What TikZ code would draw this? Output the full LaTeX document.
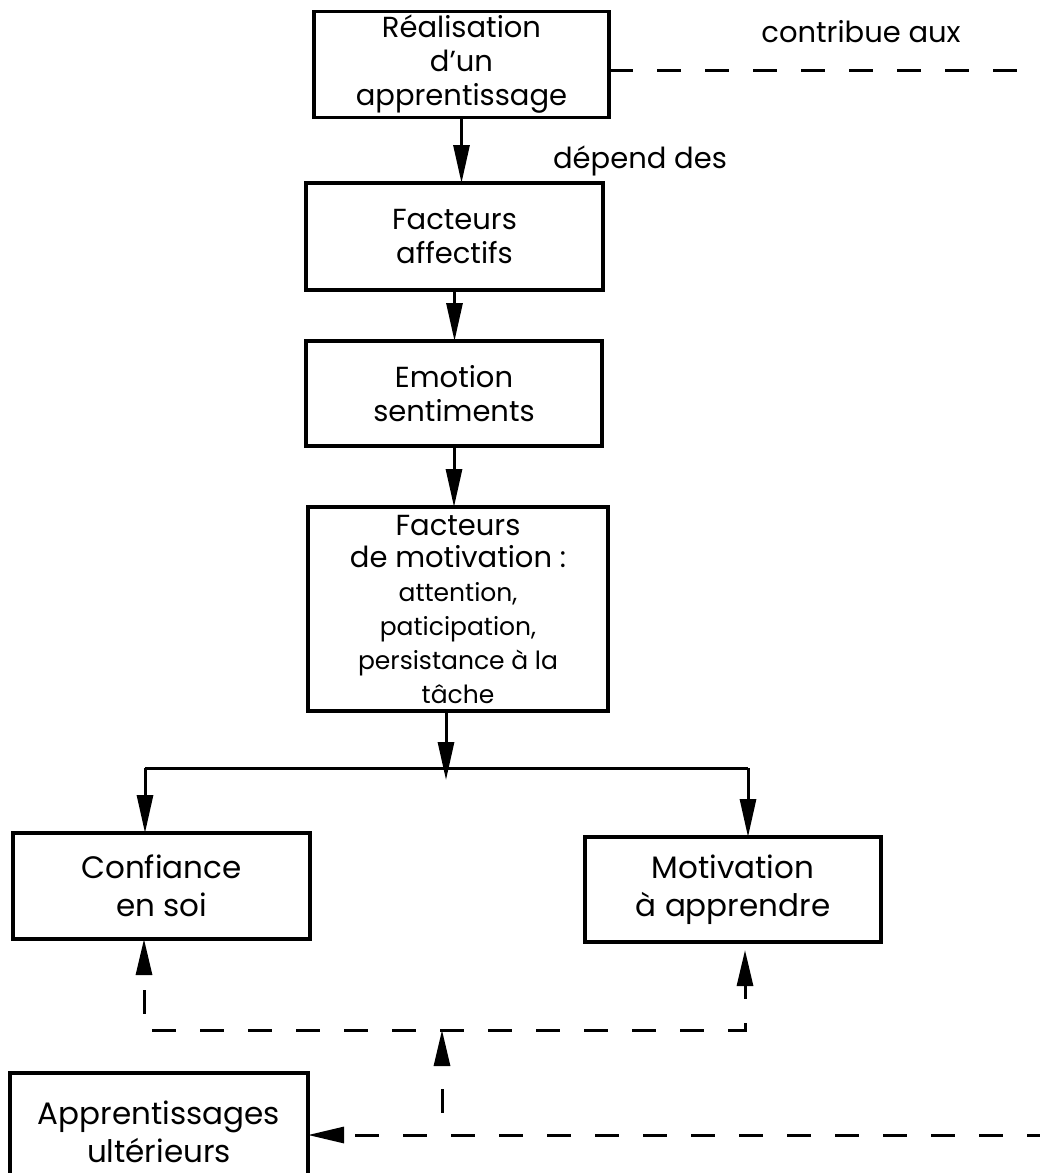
\documentclass[tikz,border=0pt]{standalone}
\usepackage{fontspec}
\setmainfont{Poppins}
\usetikzlibrary{arrows.meta}
\newcommand\bigtxt{\fontsize{14.5}{17}\selectfont}
\newcommand\midtxt{\fontsize{15.5}{19}\selectfont}
\newcommand\smalltxt{\fontsize{12.5}{14.5}\selectfont}
\begin{document}
\begin{tikzpicture}[x=0.5pt,y=-0.5pt,
  box/.style={draw,line width=1.7pt,align=center,inner sep=2pt,outer sep=0pt,font=\bigtxt},
  lowbox/.style={box,font=\midtxt},
  link/.style={line width=1.5pt,-{Triangle[length=19pt,width=8pt]}},
  dashlink/.style={line width=1.5pt,dash pattern=on 12pt off 12pt},
  tipstart/.style={{Triangle[length=18pt,width=8pt]}-},
  tipboth/.style={{Triangle[length=18pt,width=8pt]}-{Triangle[length=18pt,width=8pt]}}
]
\useasboundingbox (0,0) rectangle (1040,1173);

% boxes
\node[box,minimum width=147.5pt,minimum height=51.5pt] (r) at (461.5,64.5)
  {Réalisation\\d'un\\apprentissage};
\node[box,minimum width=148.5pt,minimum height=53.5pt] (f) at (454.5,236.5)
  {Facteurs\\affectifs};
\node[box,minimum width=148pt,minimum height=52.5pt] (e) at (454,393.5)
  {Emotion\\sentiments};
\node[box,minimum width=150pt,minimum height=102pt] (fm) at (458,609)
  {Facteurs\\[-1pt]de motivation :\\\smalltxt attention,\\\smalltxt paticipation,\\
   \smalltxt persistance à la\\\smalltxt tâche};
\node[lowbox,minimum width=148.5pt,minimum height=53pt] (c) at (161.5,886)
  {Confiance\\en soi};
\node[lowbox,minimum width=148pt,minimum height=52.5pt] (m) at (733,889.5)
  {Motivation\\à apprendre};
\node[lowbox,minimum width=149pt,minimum height=58.5pt] (u) at (159,1131.5)
  {Apprentissages\\ultérieurs};

% labels
\node[anchor=base,font=\bigtxt] (lc) at (861,42) {contribue aux};
\node[anchor=base,font=\bigtxt] (ld) at (640,168) {dépend des};

% routing points
\coordinate (topend) at (1022,70);
\coordinate (botend) at (1040,1135);
\coordinate (j1) at (442,1135);
\coordinate (j2) at (442,1030);
\coordinate (cl) at (144,1030);
\coordinate (cr) at (745,1030);
\coordinate (bl) at (145,768);
\coordinate (brr) at (748,768);
\coordinate (bm) at (446,768);
\coordinate (bmt) at (446,780);

% solid chain
\draw[link] (r.south) -- (r.south |- f.north);
\draw[link] (f.south) -- (f.south |- e.north);
\draw[link] (e.south) -- (e.south |- fm.north);
\draw[link] (fm.south -| bm) -- (bmt);
\draw[line width=1.5pt] (bl) -- (brr);
\draw[link] (bl) -- (bl |- c.north);
\draw[link] (brr) -- (brr |- m.north);

% dashed feedback
\draw[dashlink] (r.east |- topend) -- (topend);
\draw[dashlink,tipstart,dash phase=18pt] (u.east |- botend) -- (botend);
\draw[dashlink,tipstart,dash phase=12pt] (j2) -- (j1);
\draw[dashlink,tipboth,dash phase=16pt,shorten >=4pt] (c.south -| cl) -- (cl) -- (cr) -- (cr |- m.south);
\end{tikzpicture}
\end{document}
